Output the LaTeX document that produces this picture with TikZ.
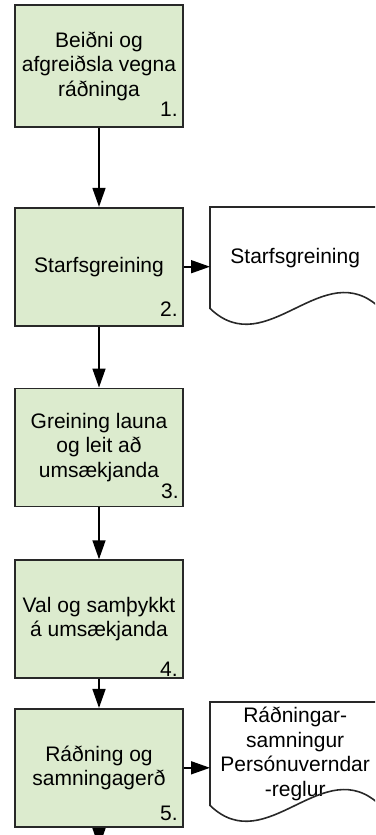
\documentclass[tikz,border=0pt]{standalone}
\usepackage{fontspec}
\setmainfont{Liberation Sans}
\usetikzlibrary{positioning, arrows.meta, calc}
\definecolor{stepgreen}{RGB}{220,235,206}
\definecolor{linegray}{RGB}{40,40,40}
\tikzset{
  proc/.style={
      rectangle,
      draw=linegray,
      line width=1.7pt,
      fill=stepgreen,
      minimum width=168pt,
      minimum height=118pt,
      align=center,
      inner sep=2pt,
      font=\fontsize{21}{24.5}\selectfont
    },
  num/.style={
      inner sep=0pt,
      font=\fontsize{21}{24.5}\selectfont
    },
  doc/.style={
      rectangle,
      minimum width=170pt,
      minimum height=101pt,
      align=center,
      inner sep=0pt,
      font=\fontsize{21}{24.5}\selectfont
    },
  docline/.style={
      draw=linegray,
      line width=1.6pt
    },
  arr/.style={
      -{Triangle[length=19pt,width=13pt]},
      line width=1.6pt,
      draw=black
    }
}

\begin{document}
\begin{tikzpicture}[x=1pt, y=-1pt]
  \useasboundingbox (0,0) rectangle (375,835);
  \clip (0,0) rectangle (375,835);
  \node[proc, minimum height=122pt] (box1) at (99,66) {Beiðni og\\afgreiðsla vegna\\ráðninga};
  \node[proc, below=79pt of box1] (box2) {Starfsgreining};
  \node[proc, below=61pt of box2] (box3) {Greining launa\\og leit að\\umsækjanda};
  \node[proc, below=52pt of box3] (box4) {Val og samþykkt\\á umsækjanda};
  \node[proc, below=29pt of box4] (box5) {Ráðning og\\samningagerð};
  \node[num, above left=11.5pt and 6pt of box1.south east] (n1) {1.};
  \node[num, above left=9.5pt and 6pt of box2.south east] (n2) {2.};
  \node[num, above left=8.5pt and 5pt of box3.south east] (n3) {3.};
  \node[num, above left=2.5pt and 6pt of box4.south east] (n4) {4.};
  \node[num, above left=6.5pt and 6pt of box5.south east] (n5) {5.};
  \node[doc, anchor=north west] (doc2) at (210,207) {Starfsgreining};
  \node[doc, minimum height=103pt, anchor=north west] (doc5) at (210,702) {Ráðningar-\\samningur\\Persónuverndar\\-reglur};
  \draw[docline] (doc2.south east) -- (doc2.north east) -- (doc2.north west) -- (doc2.south west)
    .. controls +(57,55) and +(-57,-55) .. (doc2.south east);
  \draw[docline] (doc5.south east) -- (doc5.north east) -- (doc5.north west) -- (doc5.south west)
    .. controls +(57,55) and +(-57,-55) .. (doc5.south east);
  \coordinate (end) at (99,847);
  \draw[arr] (box1) -- (box2);
  \draw[arr] (box2) -- (box3);
  \draw[arr] (box3) -- (box4);
  \draw[arr] (box4) -- (box5);
  \draw[arr] (box5) -- (end);
  \draw[arr] (box2.east) -- (box2.east -| doc2.west);
  \draw[arr] (box5.east) -- (box5.east -| doc5.west);
\end{tikzpicture}
\end{document}
